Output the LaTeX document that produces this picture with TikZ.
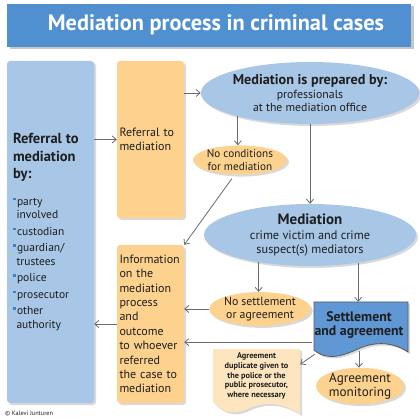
\documentclass[tikz,border=0pt]{standalone}
\usepackage{fontspec}
\setmainfont{PT Sans}
\usetikzlibrary{shapes.geometric,shadows,arrows.meta}

\definecolor{titleblue}{RGB}{80,143,208}
\definecolor{paleblue}{RGB}{168,198,230}
\definecolor{midblue}{RGB}{96,152,214}
\definecolor{paleorange}{RGB}{253,210,142}
\definecolor{lightorange}{RGB}{253,229,192}
\definecolor{arrowgray}{RGB}{105,106,110}
\definecolor{bulletblue}{RGB}{58,128,208}
\definecolor{inkgray}{RGB}{30,30,30}

\newcommand{\blt}{\makebox[4pt][l]{\textcolor{bulletblue}{\rule[5pt]{2.5pt}{2.5pt}}}}

\tikzset{
  soft/.style={drop shadow={opacity=.3, shadow xshift=2pt, shadow yshift=-2pt}},
  sidebox/.style={rectangle, rounded corners=3pt, fill=paleblue, soft, text=inkgray,
    inner xsep=6pt, inner ysep=0pt, align=left, font=\fontsize{11.5}{13.5}\selectfont},
  stepbox/.style={rectangle, rounded corners=3pt, fill=paleorange, soft, text=inkgray,
    inner xsep=2.5pt, inner ysep=0pt, align=left},
  oval/.style={ellipse, inner sep=0pt, align=center, soft, text=inkgray},
  flow/.style={->, draw=arrowgray, line width=.8pt}
}

\begin{document}
\begin{tikzpicture}[x=1pt, y=-1pt, >={Straight Barb[length=4pt,width=7pt]}]
  \useasboundingbox (0,0) rectangle (420,419);

  % title
  \fill[titleblue, drop shadow={opacity=.45, shadow xshift=2.5pt, shadow yshift=-2.5pt}]
    (7,4) rectangle (411,47);
  \node[text=white, font=\fontsize{22.3}{24}\selectfont\bfseries] (title) at (216,25)
    {Mediation process in criminal cases};

  % boxes on the left
  \node[sidebox, text width=75pt, minimum height=342pt] (src) at (50.5,232) {%
    {\fontsize{14.5}{17.5}\selectfont\bfseries Referral to\\mediation\\by:\par}
    \vspace{13pt}
    \blt party\\\hspace*{3.5pt}involved\\[3pt]
    \blt custodian\\[3pt]
    \blt guardian/\\\hspace*{3.5pt}trustees\\[3pt]
    \blt police\\[3pt]
    \blt prosecutor\\[3pt]
    \blt other\\\hspace*{3.5pt}authority};
  \node[stepbox, text width=62pt, minimum height=157pt,
        font=\fontsize{12}{14}\selectfont] (ref) at (150.5,139.5)
    {Referral to\\mediation};
  \node[stepbox, text width=62pt, minimum height=158pt,
        font=\fontsize{12}{14.4}\selectfont] (info) at (150.5,324)
    {Information\\on the\\mediation\\process\\and\\outcome\\to whoever\\referred\\the case to\\mediation};

  % ellipses
  \node[oval, fill=paleblue, minimum width=212pt, minimum height=62pt,
        font=\fontsize{11.8}{13}\selectfont] (prep) at (310,93)
    {{\fontsize{14.2}{15}\selectfont\bfseries Mediation is prepared by:}\\[1pt]
     professionals\\at the mediation office};
  \node[oval, fill=paleorange, minimum width=94pt, minimum height=26pt,
        font=\fontsize{11.2}{12.5}\selectfont] (nocond) at (240,160)
    {No conditions\\for mediation};
  \node[oval, fill=paleblue, minimum width=212pt, minimum height=62pt,
        font=\fontsize{12.3}{14}\selectfont] (med) at (310,235)
    {{\fontsize{15}{16}\selectfont\bfseries Mediation}\\[1pt]
     crime victim and crime\\suspect(s) mediators};
  \node[oval, fill=paleorange, minimum width=95pt, minimum height=32pt,
        font=\fontsize{11.8}{13}\selectfont] (nosettle) at (260,309)
    {No settlement\\or agreement};
  \node[oval, fill=paleorange, minimum width=88pt, minimum height=34pt,
        font=\fontsize{13.2}{13.5}\selectfont] (mon) at (360,386)
    {Agreement\\monitoring};

  % document shapes
  \fill[midblue, draw=black!65, line width=.8pt, soft]
    (314,302) -- (408,302) -- (408,352)
    .. controls (390,340) and (372,343) .. (360,348)
    .. controls (345,355) and (328,362) .. (314,350) -- cycle;
  \node[text=inkgray, align=center, minimum width=94pt, minimum height=46pt, inner sep=0pt,
        font=\fontsize{13.8}{14.5}\selectfont\bfseries] (settle) at (359,325)
    {Settlement\\and agreement};
  \fill[lightorange, soft]
    (213,349) -- (300,349) -- (300,414)
    .. controls (275,398) and (258,404) .. (245,410)
    .. controls (233,415) and (222,412) .. (213,402) -- cycle;
  \node[text=inkgray, align=center, minimum width=87pt, minimum height=56pt, inner sep=0pt,
        font=\fontsize{8.3}{9.6}\selectfont\bfseries] (dup) at (256.5,376)
    {Agreement\\duplicate given to\\the police or the\\public prosecutor,\\where necessary};

  \node[anchor=west, text=inkgray, font=\fontsize{6.3}{7}\selectfont, inner sep=0pt]
    (credit) at (5,413) {© Kalevi Junturen};

  % connectors
  \coordinate (s1) at ([yshift=6pt]settle.south west);
  \draw[flow] (src.east |- ref.west) -- (ref.west);
  \draw[flow] (ref.east |- prep.west) -- (prep.west);
  \draw[flow] (prep.198) -- (prep.198 |- nocond.north);
  \draw[flow] (prep.south) -- (med.north);
  \draw[flow, shorten <=5pt] (nocond.250) -- (info.north east);
  \draw[flow] (med.208) -- (med.208 |- nosettle.north);
  \draw[flow] (med.330) -- (med.330 |- settle.north);
  \draw[flow] (nosettle.west) -- (nosettle.west -| info.east);
  \draw[flow] (s1) -- (s1 -| info.east);
  \draw[flow] ([shift={(3,6)}]settle.south west) -- (dup.15);
  \draw[flow] ([yshift=-3pt]settle.south) -- (settle.south |- mon.north);
  \draw[flow] (info.west) -- (info.west -| src.east);
\end{tikzpicture}
\end{document}
